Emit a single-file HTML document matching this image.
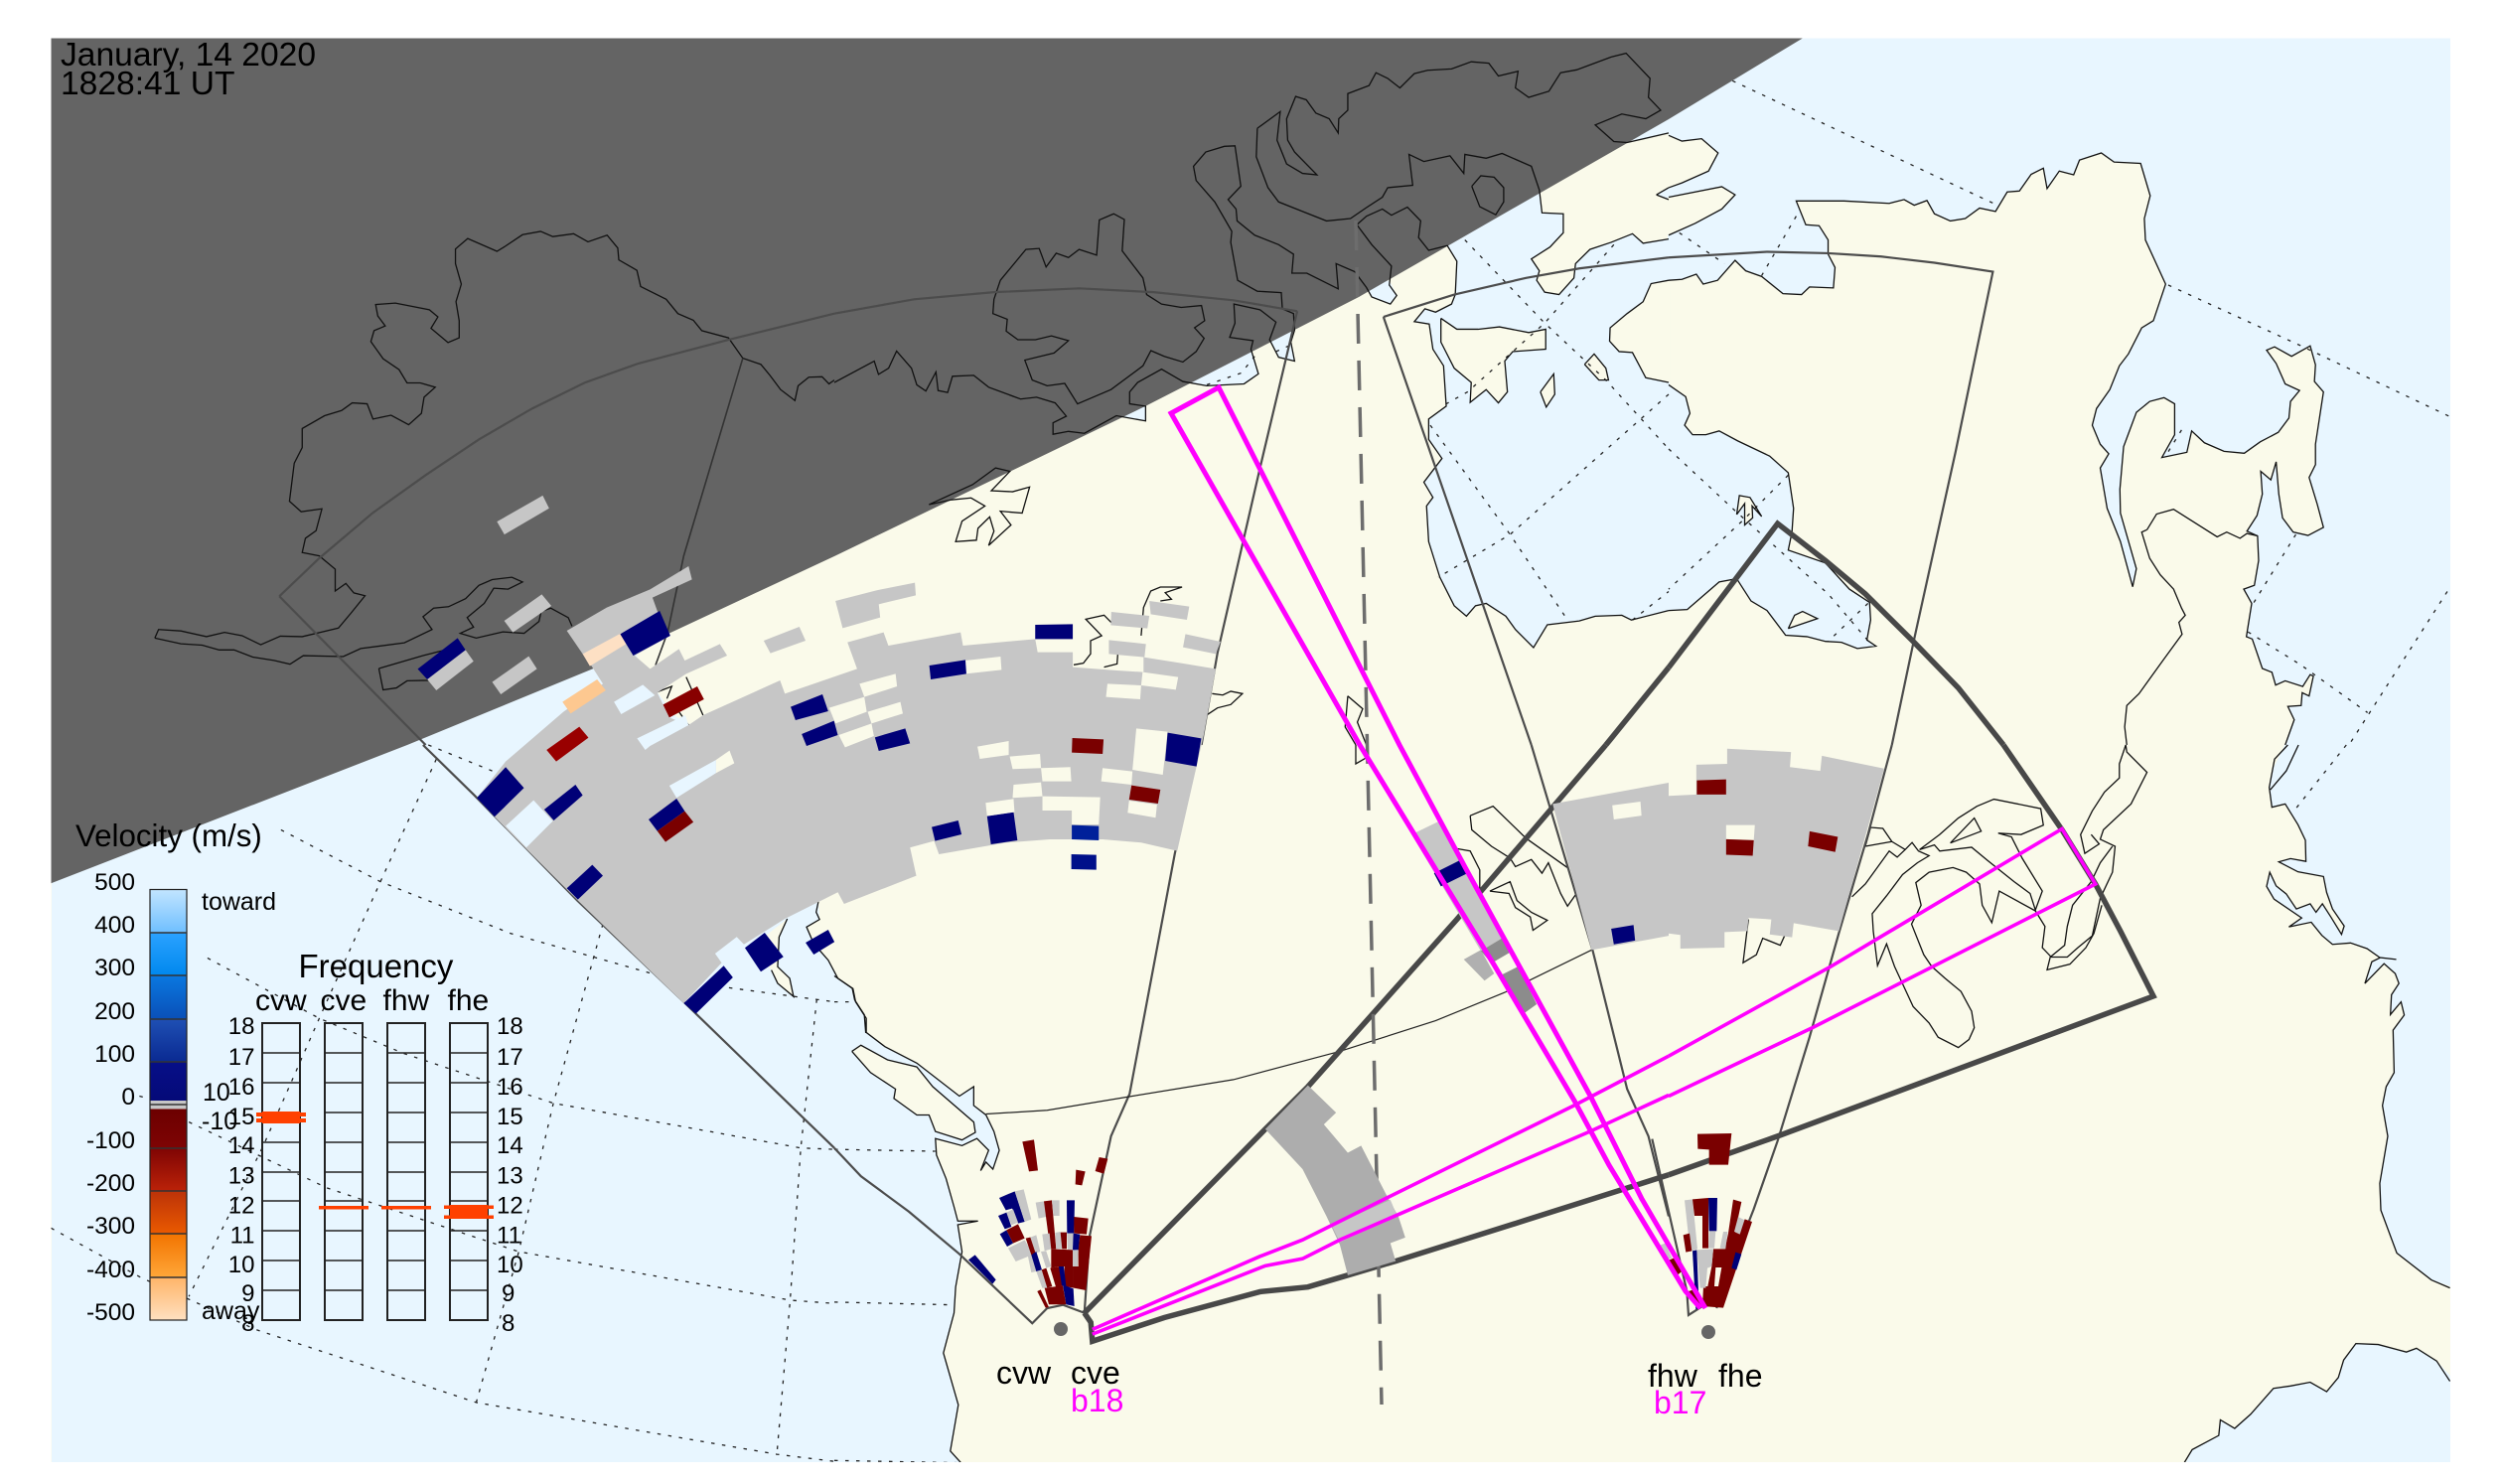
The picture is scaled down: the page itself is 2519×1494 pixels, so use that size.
<!DOCTYPE html>
<html><head><meta charset="utf-8"><title>SuperDARN velocity map</title>
<style>
html,body{margin:0;padding:0;background:#fff}
svg{display:block}
text{font-family:"Liberation Sans",Arial,sans-serif;fill:#000}
polyline,polygon,path,line{vector-effect:non-scaling-stroke}
.o{fill:#e8f6ff;stroke:none}
.l{fill:#fafaea;stroke:none}
.c polyline{fill:none;stroke:#111;stroke-width:1.3}
.g polyline{fill:none;stroke:#222;stroke-width:1.3;stroke-dasharray:3.5 7.5}
.f polyline{fill:none;stroke:#4c4c4c;stroke-width:2.2}
.n{fill:#000077}.r{fill:#7a0000}.y{fill:#c6c6c6}.w{fill:#fafaea}.b{fill:#e8f6ff}
.s{font-size:24.5px;text-anchor:end}
.q{font-size:24px;text-anchor:end}
.p{font-size:24px}
</style></head><body>
<svg xmlns="http://www.w3.org/2000/svg" width="2519" height="1494" viewBox="0 0 2519 1494">
<defs>
<clipPath id="m"><rect x="51.5" y="38.5" width="2415.5" height="1433.5"/></clipPath>
<linearGradient id="cb" x1="0" y1="0" x2="0" y2="1">
<stop offset="0" stop-color="#c2e5ff"/><stop offset=".1" stop-color="#6fbfff"/>
<stop offset=".1" stop-color="#2ba2ff"/><stop offset=".2" stop-color="#0088ee"/>
<stop offset=".2" stop-color="#0a78e0"/><stop offset=".3" stop-color="#0a50b8"/>
<stop offset=".3" stop-color="#1f50b4"/><stop offset=".4" stop-color="#0a2a92"/>
<stop offset=".4" stop-color="#060f88"/><stop offset=".49" stop-color="#050a78"/>
<stop offset=".49" stop-color="#c6c6c6"/><stop offset=".51" stop-color="#c6c6c6"/>
<stop offset=".51" stop-color="#6c0000"/><stop offset=".6" stop-color="#7e0404"/>
<stop offset=".6" stop-color="#7e0404"/><stop offset=".7" stop-color="#bb2208"/>
<stop offset=".7" stop-color="#bc3208"/><stop offset=".8" stop-color="#ea5a00"/>
<stop offset=".8" stop-color="#f27400"/><stop offset=".9" stop-color="#ffa638"/>
<stop offset=".9" stop-color="#ffb468"/><stop offset="1" stop-color="#ffe0c0"/>
</linearGradient>
</defs>
<rect width="2519" height="1494" fill="#fff"/>
<g clip-path="url(#m)">
<rect x="51" y="38" width="2417" height="1435" fill="#fafaea"/>

<!-- oceans -->
<polygon class="o" points="52,300 640,600 640,655 648,689 678,700 721,765 721,778 824,907 825,926 812,933 819,950 834,967 843,985 858,995 860,1007 870,1022 872,1040 891,1054 923,1070 966,1103 980,1094 980,1113 993,1122 1001,1139 1006,1158 1000,1177 993,1170 987,1178 995,1158 984,1146 969,1153 942,1146 943,1163 952,1186 960,1215 964,1229 985,1229 964,1233 969,1260 962,1296 960,1322 950,1362 965,1414 957,1461 968,1473 52,1473"/>
<g transform="translate(840,750) scale(.5357,.4745)">
<polygon class="l" points="33,650 50,637 100,668 155,683 185,725 262,800 265,822 240,838 190,820 178,785 155,785 112,750 115,730 68,695"/>
</g>
<g transform="translate(480,560) scale(.4847,.3333)">
<polygon class="l" points="645,1095 628,1150 625,1240 650,1275 658,1330 625,1290 612,1250 570,1180"/>
<polygon class="l" points="435,365 470,480 440,510 410,480 375,410 400,380"/>
<polygon class="l" points="497,615 530,600 545,640 497,660"/>
</g>
<g transform="translate(840,0) scale(.5357,.4783)">
<polygon class="o" points="1152,517 1170,550 1167,620 1160,640 1130,657 1110,650 1090,677 1118,682 1125,735 1145,770 1150,855 1117,882 1117,925 1142,965 1108,1015 1125,1047 1113,1065 1117,1140 1138,1215 1165,1275 1188,1297 1205,1275 1225,1270 1262,1297 1280,1325 1314,1363 1340,1315 1400,1307 1430,1297 1480,1295 1498,1305 1570,1285 1570,100"/>
<polygon class="l" points="1570,590 1535,597 1520,635 1490,660 1458,690 1457,718 1475,740 1500,742 1525,795 1570,805"/>
<polygon class="l" points="1370,450 1370,490 1345,520 1310,545 1325,570 1320,590 1335,615 1362,620 1390,585 1393,555 1420,525 1460,510 1500,492 1520,512 1570,503 1570,420 1545,410 1570,395 1570,280 1490,300 1465,298 1430,263 1300,340 1325,400 1330,448"/>
<polygon class="l" points="1140,670 1170,693 1210,693 1250,688 1305,700 1337,693 1337,735 1275,740 1260,760 1265,825 1248,848 1225,820 1195,847 1197,805 1165,775 1140,720"/>
<polygon class="l" points="1410,767 1428,745 1450,775 1455,800 1437,800"/>
<polygon class="l" points="1327,825 1352,787 1354,830 1338,857"/>
<polygon class="o" points="783,735 797,787 770,808 700,812 655,803"/>
<polygon class="o" points="818,715 835,752 865,760 858,720 865,680"/>
<polygon class="o" points="530,875 585,886 585,850"/>
<polygon class="o" points="1000,605 1010,625 1045,640 1057,622 1043,590"/>
</g>
<g transform="translate(1680,0) scale(.5351,.4783)">
<polygon class="o" points="0,100 300,60 1480,60 1480,1570 1160,1570 1177,1515 1165,1487 1190,1485 1192,1458 1205,1465 1213,1423 1207,1420 1193,1445 1160,1433 1142,1442 1135,1415 1117,1407 1098,1345 1087,1340 1097,1270 1082,1240 1102,1232 1110,1180 1108,1128 1088,1118 1107,1085 1117,1040 1114,992 1133,1010 1143,972 1148,1040 1155,1090 1175,1120 1203,1127 1232,1110 1220,1060 1205,1005 1217,978 1217,935 1232,825 1215,803 1217,768 1207,728 1172,750 1140,730 1125,737 1143,765 1160,808 1187,822 1170,845 1167,880 1147,910 1113,930 1083,954 1045,950 1008,932 984,907 975,952 928,963 952,915 952,850 932,837 905,845 880,868 856,940 849,1030 850,1080 880,1197 873,1235 850,1140 825,1070 812,985 828,955 812,935 797,895 805,860 830,820 848,770 865,745 890,690 912,675 935,598 897,505 895,460 906,412 888,344 838,341 814,322 773,337 762,368 735,360 712,397 705,354 682,367 660,402 637,404 615,445 585,438 558,460 530,465 500,450 486,422 462,432 443,420 415,428 330,423 240,423 258,473 283,475 300,505 300,535 313,563 310,606 265,604 250,620 215,618 175,582 145,570 125,548 92,590 65,598 52,577 25,588 -2,590"/>
<polygon class="o" points="-2,810 0,810 32,835 40,870 30,895 45,915 70,915 95,907 130,928 190,960 225,995 235,1070 232,1120 225,1158 295,1185 340,1240 378,1268 380,1305 373,1347 390,1360 355,1365 325,1352 295,1350 260,1340 220,1337 185,1285 155,1265 128,1218 95,1225 35,1283 -2,1285"/>
<polygon class="l" points="-2,285 25,297 62,292 93,322 75,360 25,385 -2,395"/>
<polygon class="l" points="-2,415 100,393 125,410 100,440 50,470 -2,495"/>
<polygon class="l" points="225,1323 237,1295 252,1287 280,1302"/>
<polygon class="l" points="128,1083 133,1043 153,1047 175,1087 157,1065 158,1090 143,1105 143,1060"/>
</g>
<g transform="translate(1680,750) scale(.5351,.4745)">
<polygon class="o" points="1480,-2 1160,-2 1135,55 1130,95 1135,132 1160,125 1184,169 1198,202 1199,247 1170,241 1148,248 1184,269 1232,279 1238,313 1249,348 1271,384 1266,402 1246,365 1230,337 1218,355 1207,337 1181,348 1162,316 1143,299 1131,270 1125,300 1139,327 1191,367 1167,386 1209,376 1229,404 1249,423 1283,420 1314,432 1338,451 1369,455 1339,451 1323,460 1310,506 1346,464 1367,485 1374,506 1360,530 1358,572 1378,545 1384,573 1363,605 1365,695 1350,725 1343,765 1353,830 1338,930 1340,987 1370,1078 1435,1135 1480,1152"/>
<polygon class="o" points="970,1530 985,1495 1035,1465 1038,1432 1065,1450 1095,1420 1138,1365 1170,1360 1207,1352 1238,1372 1260,1342 1270,1305 1293,1270 1335,1272 1388,1288 1407,1280 1445,1307 1480,1350 1480,1530"/>
</g>

<!-- graticule -->
<g class="g">
<g transform="translate(1680,0) scale(.5351,.4783)">
<polyline points="120,170 615,430"/><polyline points="940,600 1190,728 1470,877"/><polyline points="1180,1125 1100,1270"/><polyline points="1090,1330 1190,1400 1315,1500"/><polyline points="1465,1245 1280,1568"/><polyline points="240,455 175,580"/><polyline points="20,490 105,555"/><polyline points="0,945 125,1075 155,1105 300,1250 380,1355"/><polyline points="225,1000 140,1095 0,1240"/><polyline points="375,1270 300,1350"/><polyline points="965,905 935,960"/>
</g>
<g transform="translate(1680,750) scale(.5351,.4745)"><polyline points="1275,0 1180,135"/></g>
<g transform="translate(840,0) scale(.5357,.4783)">
<polyline points="1185,505 1335,680 1450,800 1568,945"/><polyline points="1465,515 1335,680 1190,825 1150,850"/><polyline points="1120,895 1270,1125 1375,1300"/><polyline points="1568,830 1270,1125 1135,1215"/><polyline points="1500,1305 1568,1245"/><polyline points="700,810 765,785 790,750"/><polyline points="830,740 860,725"/>
</g>
<g transform="translate(0,750) scale(.5357,.4745)">
<polyline points="805,0 925,55"/>
<polyline points="528,180 715,290 960,400 1225,485"/><polyline points="1370,515 1535,540 1568,545"/>
<polyline points="390,452 600,580 760,655 1040,760 1505,855 1568,858"/>
<polyline points="355,800 615,940 975,1075 1485,1178 1568,1185"/>
<polyline points="96,1025 265,1130 480,1240 895,1395 1460,1505 1568,1520"/>
<polyline points="262,745 280,750"/>
<polyline points="820,30 715,290 600,580 495,850 355,1170"/>
<polyline points="1133,380 1040,760 975,1075 895,1395"/>
<polyline points="1535,540 1505,855 1485,1178 1460,1505"/>
</g>
<g transform="translate(840,750) scale(.5357,.4745)">
<polyline points="0,545 40,545"/><polyline points="0,858 190,862"/><polyline points="0,1182 225,1188"/><polyline points="0,1518 235,1523"/>
</g>
</g>

<!-- terminator -->
<polygon fill="#646464" points="40,30 1827,30 1814,39 1680,120 1368,299 1153,409 840,560 600,672 410,750 52,889 40,894"/>

<!-- coastlines -->
<g class="c">
<g transform="scale(.5357,.4783)">
<polyline points="291,1343 298,1325 340,1328 388,1340 422,1331 455,1338 490,1357 527,1339 568,1340 636,1322 660,1290 686,1254 665,1248 650,1228 630,1244 630,1198 600,1170 568,1163 574,1133 594,1117 605,1071 566,1077 544,1055 553,975 568,942 568,902 610,875 642,864 662,848 690,850 701,882 735,874 768,894 792,870 797,836 818,815 790,806 765,806 750,778 720,755 697,719 703,696 724,686 710,665 706,641 743,638 807,652 823,667 810,691 842,721 863,711 863,675 857,635 867,598 856,555 856,524 879,502 934,529 950,518 982,494 1016,487 1039,498 1078,492 1105,509 1141,495 1161,522 1163,547 1197,569 1204,603 1252,630 1274,660 1303,674 1319,696 1369,711 1396,754 1430,767 1447,790 1467,820 1494,843 1500,812 1520,794 1545,793 1558,808 1568,800"/>
<polyline points="291,1343 340,1355 380,1358 412,1368 440,1368 475,1383 515,1390 545,1398 570,1380 645,1382 678,1365 760,1353 812,1325 795,1298 815,1280 843,1277 875,1260 900,1232 925,1220 962,1215 982,1225 955,1240 928,1238 910,1270 878,1300 890,1320 865,1333 895,1343 945,1330 985,1333 1013,1308 1017,1287 1035,1280 1068,1300 1075,1318"/>
<polyline points="712,1407 795,1380 830,1370 805,1432 765,1433 745,1448 720,1452 712,1407"/>
</g>
<g transform="translate(480,560) scale(.4847,.3333)">
<polyline points="350,380 375,410 405,393 395,430"/><polyline points="435,365 470,480"/><polyline points="420,470 440,510"/><polyline points="497,615 497,655"/><polyline points="530,612 540,625"/>
<polyline points="645,1095 628,1150 625,1240 650,1275 658,1330 625,1290 612,1250"/>
<polyline points="710,1040 705,1075 712,1097 685,1120 700,1170 730,1220 750,1275 780,1305 785,1340 805,1385 808,1440"/>
<polyline points="1240,328 1260,323 1275,295 1275,255 1298,240 1265,190 1303,178 1318,200"/>
<polyline points="1303,335 1330,325 1332,285"/>
<polyline points="1380,240 1385,155 1400,105 1420,93 1465,93 1430,110 1443,130 1420,135"/>
</g>
<g transform="translate(840,0) scale(.5357,.4783)">
<polyline points="0,805 75,760 83,788 102,775 117,739 145,775 155,810 172,823 191,783 195,822 213,826 222,792 262,790 290,815 350,840 380,836 415,848 436,876 411,890 411,914 440,908 470,912 530,875 585,886 585,855 555,850 555,825 570,805 615,777 655,803 700,812 770,808 797,787 783,735 787,717 743,710 753,680 751,640 800,652 830,678 818,715 835,752 865,760 858,720 865,695 863,660 842,650 840,616 795,613 758,590 745,510 747,487 715,425 680,380 675,350 698,320 733,308 753,307 764,392 740,420 755,440 757,465 790,495 835,515 863,535 860,575 888,575 947,608 943,555 978,572 1000,605 1010,625 1045,640 1057,622 1043,600 1047,560 1010,515 982,473 1000,455 1030,440 1047,453 1077,436 1102,465 1098,500 1117,527 1152,517 1170,550 1167,620 1160,640 1130,657 1110,650 1090,677 1118,682 1125,735 1145,770 1150,855 1117,882 1117,925 1142,965 1108,1015 1125,1047 1113,1065 1117,1140 1138,1215 1165,1275 1188,1297 1205,1275 1225,1270 1262,1297 1280,1325 1314,1363 1340,1315 1400,1307 1430,1297 1480,1295 1498,1305 1568,1285"/>
<polyline points="1568,590 1535,597 1520,635 1490,660 1458,690 1457,718 1475,740 1500,742 1525,795 1568,805"/>
<polyline points="795,270 838,235 832,295 850,345 880,365 907,368 865,320 852,295 850,250 867,203 887,210 905,238 930,250 947,280 948,250 965,232 965,197 1005,180 1018,153 1040,165 1063,185 1090,155 1115,148 1160,145 1197,130 1230,133 1248,160 1285,150 1280,185 1305,205 1343,192 1365,153 1395,147 1460,120 1488,112 1533,165 1530,205 1553,232 1525,250 1480,240 1430,263 1465,298 1490,300 1568,280"/>
<polyline points="795,270 793,330 815,395 835,425 880,445 925,465 970,460 1000,437 1030,415 1040,395 1087,390 1080,325 1108,340 1157,328 1183,365 1185,325 1225,333 1255,323 1310,350 1325,400 1330,448 1370,450 1370,490 1345,520 1310,545 1325,570 1320,590 1335,615 1362,620 1390,585 1393,555 1420,525 1460,510 1500,492 1520,512 1568,503"/>
<polyline points="1545,410 1568,395"/><polyline points="1545,410 1568,420"/>
<polyline points="312,590 360,525 385,523 398,562 417,533 440,542 460,525 493,537 498,463 525,450 545,462 541,528 580,585 587,620 615,640 652,647 690,643 696,675 677,690 695,712 680,740 655,762 620,750 595,738 580,770 520,820 457,850 433,807 400,812 372,800 358,758 413,743 440,717 408,707 378,715 345,715 323,697 325,672 298,660 300,630 312,590"/>
<polyline points="1198,392 1215,370 1240,373 1258,395 1258,425 1243,452 1213,435 1198,392"/>
<polyline points="1140,670 1170,693 1210,693 1250,688 1305,700 1337,693 1337,735 1275,740 1260,760 1265,825 1248,848 1225,820 1195,847 1197,805 1165,775 1140,720 1140,670"/>
<polyline points="1410,767 1428,745 1450,775 1455,800 1437,800 1410,767"/>
<polyline points="1327,825 1352,787 1354,830 1338,857 1327,825"/>
<polyline points="178,1062 260,1020 303,985 330,992 295,1033 335,1035 367,1025 353,1080 312,1076 332,1105 290,1148 300,1118 292,1088 270,1112 267,1137 228,1140 240,1097 283,1065 257,1048 220,1052 178,1062"/>
<polyline points="710,1460 730,1463 745,1455 767,1460 745,1483 720,1490 700,1505"/>
<polyline points="965,1465 993,1492 983,1520 1000,1568"/><polyline points="965,1465 960,1530 980,1568"/>
</g>
<g transform="translate(1680,0) scale(.5351,.4783)">
<polyline points="1160,1568 1177,1515 1165,1487 1190,1485 1192,1458 1205,1465 1213,1423 1207,1420 1193,1445 1160,1433 1142,1442 1135,1415 1117,1407 1098,1345 1087,1340 1097,1270 1082,1240 1102,1232 1110,1180 1108,1128 1088,1118 1107,1085 1117,1040 1114,992 1133,1010 1143,972 1148,1040 1155,1090 1175,1120 1203,1127 1232,1110 1220,1060 1205,1005 1217,978 1217,935 1232,825 1215,803 1217,768 1207,728 1172,750 1140,730 1125,737 1143,765 1160,808 1187,822 1170,845 1167,880 1147,910 1113,930 1083,954 1045,950 1008,932 984,907 975,952 928,963 952,915 952,850 932,837 905,845 880,868 856,940 849,1030 850,1080 880,1197 873,1235 850,1140 825,1070 812,985 828,955 812,935 797,895 805,860 830,820 848,770 865,745 890,690 912,675 935,598 897,505 895,460 906,412 888,344 838,341 814,322 773,337 762,368 735,360 712,397 705,354 682,367 660,402 637,404 615,445 585,438 558,460 530,465 500,450 486,422 462,432 443,420 415,428 330,423 240,423 258,473 283,475 300,505 300,535 313,563 310,606 265,604 250,620 215,618 175,582 145,570 125,548 92,590 65,598 52,577 25,588 0,590"/>
<polyline points="0,810 32,835 40,870 30,895 45,915 70,915 95,907 130,928 190,960 225,995 235,1070 232,1120 225,1158 295,1185 340,1240 378,1268 380,1305 373,1347 390,1360 355,1365 325,1352 295,1350 260,1340 220,1337 185,1285 155,1265 128,1218 95,1225 35,1283 0,1285"/>
<polyline points="0,285 25,297 62,292 93,322 75,360 25,385 0,395"/>
<polyline points="0,415 100,393 125,410 100,440 50,470 0,495"/>
<polyline points="225,1323 237,1295 252,1287 280,1302 225,1323"/>
<polyline points="128,1083 133,1043 153,1047 175,1087 157,1065 158,1090 143,1105 143,1060 128,1083"/>
<polyline points="900,1115 890,1120 905,1175 925,1210 950,1240 965,1280 972,1295 960,1310 966,1335 930,1390 885,1460 862,1485 858,1530 862,1568"/>
<polyline points="900,1115 918,1082 950,1072 1032,1130 1050,1120 1075,1133 1088,1123 1108,1128"/>
</g>
<g transform="translate(840,750) scale(.5357,.4745)">
<polyline points="0,490 35,517 40,545 60,580 60,610 95,640 155,675 235,745 262,725 262,765 285,785 300,820 310,860 298,900 285,885 275,903 290,860 268,835 240,850 190,835 192,870 210,920 225,980 232,1010 270,1010 232,1018 240,1075 228,1150 225,1205 205,1290 233,1400 218,1498 238,1523"/>
<polyline points="33,650 50,637 100,668 155,683 185,725 262,800 265,822 240,838 190,820 178,785 155,785 112,750 115,730 68,695 33,650"/>
<polyline points="980,0 980,40 1003,25"/>
<polyline points="1195,150 1238,130 1300,198 1380,262"/>
<polyline points="1195,150 1198,180 1235,215 1270,240 1280,258 1310,243 1330,272 1342,250 1365,315 1378,342 1393,318"/>
<polyline points="1170,220 1195,225 1213,265 1213,305"/>
<polyline points="1232,310 1270,290 1283,330 1310,355 1340,372 1313,393 1308,365 1280,345 1268,315 1232,310"/>
</g>
<g transform="translate(1680,750) scale(.5351,.4745)">
<polyline points="1165,0 1140,30 1130,90 1135,132 1160,125 1184,169 1198,202 1199,247 1170,241 1148,248 1184,269 1232,279 1238,313 1249,348 1271,384 1266,402 1246,365 1230,337 1218,355 1207,337 1181,348 1162,316 1143,299 1131,270 1125,300 1139,327 1191,367 1167,386 1209,376 1229,404 1249,423 1283,420 1314,432 1338,451 1369,455 1339,451 1323,460 1310,506 1346,464 1367,485 1374,506 1360,530 1358,572 1378,545 1384,573 1363,605 1365,695 1350,725 1343,765 1353,830 1338,930 1340,987 1370,1078 1435,1135 1470,1152"/>
<polyline points="1132,95 1162,55 1185,0"/>
<polyline points="970,1523 985,1495 1035,1465 1038,1432 1065,1450 1095,1420 1138,1365 1170,1360 1207,1352 1238,1372 1260,1342 1270,1305 1293,1270 1335,1272 1388,1288 1407,1280 1445,1307 1470,1350"/>
<polyline points="370,215 380,175 403,177 420,205 445,222 458,207 470,225 490,235 468,250 440,275 410,320 383,358 385,395 393,468 410,422 425,470 460,555 490,590 507,620 545,642 565,625 575,600 570,565 550,523 520,495 495,470 480,445 457,380 475,340 465,292 490,270 535,260 560,270 585,295 590,340 608,377 622,310 690,352 708,385 703,430 720,450 750,450 770,430 797,405 812,325 835,270 840,215 812,200 818,180 870,125 900,58 862,15 860,0"/>
<polyline points="345,322 370,295 415,225 430,238 445,222"/><polyline points="370,215 420,205"/>
<polyline points="472,222 500,212 510,225 570,217 600,245 650,290 680,315 690,350 703,310 665,240 645,195 620,187 663,190 705,170 700,135 612,115 580,130 545,155 510,190 472,222"/>
<polyline points="530,208 575,155 588,183 530,208"/>
<polyline points="860,0 848,40 848,70 820,100 797,140 775,190 783,230 810,210 795,190"/>
<polyline points="835,215 812,250 795,290 760,340 750,385 745,425 718,450 712,477 755,465 785,430 800,400 815,340"/>
<polyline points="150,370 140,462 165,445 177,410 210,425 220,400"/>
</g>
</g>

<!-- thin fields of view -->
<g class="f">
<g transform="scale(.5357,.4783)">
<polyline points="525,1255 600,1175 700,1080 800,1000 900,925 1000,860 1100,805 1200,765 1370,715 1568,660"/>
<polyline points="525,1255 800,1568"/>
<polyline points="1396,754 1285,1170 1255,1330 1232,1400" style="stroke:#333;stroke-width:1.6"/>
</g>
<g transform="translate(0,750) scale(.5357,.4745)">
<polyline points="795,0 890,105 1085,330 1285,545 1568,855"/>
</g>
<g transform="translate(840,0) scale(.5357,.4783)">
<polyline points="0,660 150,630 300,615 460,607 600,615 750,632 870,655"/>
<polyline points="870,655 800,985 720,1375 690,1568"/>
<polyline points="1032,667 1165,620 1300,585 1400,565 1568,542"/>
<polyline points="1032,667 1310,1568"/>
</g>
<g transform="translate(840,750) scale(.5357,.4745)">
<polyline points="0,855 50,915 140,990 235,1080 372,1227 400,1195 430,1188 470,1205"/>
<polyline points="680,30 640,230 555,740 520,830 480,1040 470,1205"/>
<polyline points="1310,0 1425,435 1490,730 1530,830 1568,1000"/>
<polyline points="285,783 400,775 560,745 750,710 950,650 1130,585 1260,525 1423,435" style="stroke:#222;stroke-width:1.2"/>
</g>
<g transform="translate(1680,0) scale(.5351,.4783)">
<polyline points="0,542 185,530 300,533 400,540 500,553 610,572 540,950 460,1355 420,1568"/>
</g>
<g transform="translate(1680,750) scale(.5351,.4745)">
<polyline points="420,0 375,190 320,400 265,620 205,840 160,985 120,1100 90,1195"/>
</g>
<g transform="translate(1620,1100) scale(.3333)">
<polyline points="130,140 235,600 240,672 290,640"/>
</g>
</g>

<!-- bold b18 field of view -->
<g>
<g transform="translate(840,750) scale(.5357,.4745)">
<polyline fill="none" stroke="#484848" stroke-width="5.5" points="470,1205 482,1225 485,1265 620,1215 800,1160 890,1150 965,1125 1055,1095 1300,1008 1568,912"/>
<polyline fill="none" stroke="#484848" stroke-width="5.5" points="1450,0 1170,370 890,725 810,815 470,1205"/>
</g>
<g transform="translate(1680,750) scale(.5351,.4745)">
<polyline fill="none" stroke="#484848" stroke-width="5.5" points="0,912 210,828 912,533 850,395 803,295 740,180 630,0"/>
</g>
<g transform="translate(1680,0) scale(.5351,.4783)">
<polyline fill="none" stroke="#484848" stroke-width="5.5" points="630,1568 545,1448 460,1350 370,1250 295,1180 205,1102 0,1405"/>
</g>
<g transform="translate(840,0) scale(.5357,.4783)">
<polyline fill="none" stroke="#484848" stroke-width="5.5" points="1568,1405 1450,1568"/>
</g>
</g>

<!-- dashed meridian -->
<line x1="1365" y1="222" x2="1391" y2="1414" stroke="#6d6d6d" stroke-width="3.5" stroke-dasharray="30 17"/>

<!-- cells over the dark region -->
<g transform="scale(.5357,.4783)">
<polygon class="y" points="1020,1043 1032,1070 948,1125 934,1098"/>
<polygon class="n" points="860,1343 875,1368 803,1430 785,1408"/>
<polygon class="y" points="875,1368 890,1392 820,1453 803,1430"/>
</g>

<!-- cvw/cve scatter -->
<g transform="translate(480,560) scale(.4847,.3333)">
<polygon class="y" points="187,225 270,155 360,100 440,30 447,70 365,125 375,165 402,240 328,300 360,340 420,280 432,315 505,265 520,300 435,355 375,412 387,448 400,487 440,510 470,480 630,375 640,415 790,340 770,260 845,230 855,270 1005,230 1010,270 1160,250 1165,290 1238,290 1238,335 1330,345 1385,350 1385,305 1460,322 1535,340 1510,540 1455,890 1380,865 1300,855 1190,855 1100,865 1040,880 960,900 950,860 900,880 913,965 763,1050 750,1015 640,1095 530,1195 430,1350 210,1040 100,880 37,787 0,730 60,620 180,470 262,385 240,335 220,295"/>
<polygon class="y" points="135,115 155,150 75,230 57,195"/>
<polygon class="y" points="108,302 125,340 50,417 32,380"/>
<polygon class="y" points="670,213 683,255 610,293 596,255"/>
<polygon class="y" points="910,80 912,118 835,145 838,185 760,217 745,135 830,103"/>
<polygon class="y" points="1397,135 1480,152 1475,192 1400,175"/>
<polygon class="y" points="1318,168 1397,180 1393,218 1317,208"/>
<polygon class="y" points="1313,253 1390,265 1387,305 1313,295"/>
<polygon class="y" points="1472,235 1545,258 1535,295 1467,275"/>
<polygon fill="#fde0c4" points="300,232 310,265 235,332 220,295"/>
<polygon fill="#fdc890" points="250,372 268,405 195,475 178,440"/>
<polygon class="n" points="380,165 402,240 325,300 298,235"/>
<polygon class="b" points="345,388 370,420 300,477 285,440"/>
<polygon fill="#990000" points="213,515 232,548 165,620 145,585"/>
<polygon fill="#880000" points="458,393 472,432 400,487 387,448"/>
<polygon class="b" points="433,480 440,510 360,573 350,585 333,550"/>
<polygon class="b" points="497,615 497,655 415,730 400,693"/>
<polygon class="w" points="497,615 525,587 535,625 497,655"/>
<polygon class="n" points="415,732 432,770 375,830 357,795"/>
<polygon class="r" points="432,770 450,803 392,863 375,830"/>
<polygon class="n" points="205,690 220,722 160,798 140,765"/>
<polygon class="n" points="60,637 98,700 37,787 0,730"/>
<polygon class="b" points="118,737 158,800 103,880 60,815"/>
<polygon class="n" points="240,932 262,965 210,1037 187,1003"/>
<polygon class="n" points="513,1237 532,1272 455,1382 430,1350"/>
<polygon class="b" points="540,1150 600,1240 550,1250 513,1237 495,1200"/>
<polygon class="n" points="598,1137 637,1210 590,1255 557,1183"/>
<polygon class="n" points="730,1128 743,1165 700,1203 683,1167"/>
<polygon class="w" points="1015,315 1088,303 1090,343 1015,355"/>
<polygon class="n" points="940,330 1015,313 1017,355 943,372"/>
<polygon class="n" points="1160,207 1238,205 1238,250 1160,250"/>
<polygon class="w" points="870,355 795,385 805,425 873,393"/>
<polygon class="n" points="718,417 730,468 662,495 652,455"/>
<polygon class="w" points="805,425 732,458 745,505 810,470"/>
<polygon class="w" points="880,440 812,470 820,505 885,475"/>
<polygon class="n" points="742,497 750,540 685,573 675,537"/>
<polygon class="w" points="820,505 752,540 765,577 825,543"/>
<polygon class="n" points="890,520 900,565 835,588 827,547"/>
<polygon class="w" points="1105,558 1040,575 1045,612 1105,600"/>
<polygon class="w" points="1170,597 1107,605 1113,643 1172,640"/>
<polygon class="w" points="1233,637 1172,640 1175,680 1235,680"/>
<polygon class="r" points="1237,549 1302,553 1300,597 1236,593"/>
<polygon class="w" points="1370,520 1435,530 1425,660 1362,645"/>
<polygon class="n" points="1435,533 1505,550 1495,635 1430,618"/>
<polygon class="w" points="1300,640 1362,650 1360,690 1297,680"/>
<polygon class="r" points="1360,692 1420,705 1415,747 1355,735"/>
<polygon class="w" points="1355,738 1413,750 1410,790 1352,775"/>
<polygon class="w" points="1115,690 1172,683 1175,725 1113,730"/>
<polygon class="w" points="1175,725 1295,728 1292,810 1236,810 1236,768 1175,768"/>
<polygon fill="#00209a" points="1236,812 1292,815 1292,858 1236,855"/>
<polygon fill="#00108a" points="1235,900 1287,902 1287,947 1235,945"/>
<polygon class="n" points="1060,785 1115,773 1123,858 1068,870"/>
<polygon class="w" points="1057,745 1115,733 1117,773 1060,785"/>
<polygon class="n" points="945,818 1000,798 1007,840 952,860"/>
<polygon class="w" points="1310,385 1380,390 1378,432 1307,425"/>
<polygon class="w" points="1383,350 1457,365 1452,403 1380,390"/>
</g>

<!-- cluster near cv radars -->
<g transform="translate(950,1100) scale(.3333)">
<polygon class="r" points="238,148 273,142 285,235 258,238"/>
<polygon class="r" points="400,233 428,238 418,280 398,277"/>
<polygon class="r" points="470,195 496,200 484,245 458,237"/>
<polygon class="n" points="168,318 215,298 245,390 225,395 207,350 188,355"/>
<polygon class="y" points="215,298 242,292 265,383 245,390"/>
<polygon class="n" points="165,372 190,362 205,405 185,412"/>
<polygon class="y" points="190,362 210,352 225,392 205,400"/>
<polygon class="n" points="170,427 190,415 210,455 192,465"/>
<polygon class="r" points="190,415 225,397 245,440 210,455"/>
<polygon class="y" points="195,470 245,445 265,480 280,540 265,543 255,495 218,510"/>
<polygon class="y" points="262,437 280,430 292,480 278,485"/>
<polygon class="r" points="248,440 262,437 278,485 265,490"/>
<polygon class="n" points="265,490 280,480 297,535 280,540"/>
<polygon class="y" points="278,332 303,328 310,375 287,380"/>
<polygon class="r" points="303,328 327,325 340,472 322,472"/>
<polygon class="y" points="327,325 350,325 350,372 332,372"/>
<polygon class="n" points="372,325 396,325 394,425 373,425"/>
<polygon class="r" points="394,375 437,380 432,428 394,425"/>
<polygon class="y" points="298,428 320,425 325,472 305,478"/>
<polygon class="y" points="337,423 353,420 358,472 340,472"/>
<polygon class="r" points="353,422 372,422 372,472 358,472"/>
<polygon class="y" points="373,425 392,425 390,475 375,475"/>
<polygon class="n" points="392,425 412,428 408,475 390,475"/>
<polygon class="r" points="412,430 447,433 430,597 393,590 393,525 407,525 407,475"/>
<polygon class="y" points="390,475 407,477 405,525 390,525"/>
<polygon class="r" points="325,472 390,475 390,525 365,525 348,525 325,530"/>
<polygon class="y" points="294,480 310,478 325,525 310,530"/>
<polygon class="r" points="365,525 393,525 393,590 365,585"/>
<polygon class="r" points="322,530 350,525 365,580 340,590"/>
<polygon class="n" points="348,525 363,525 370,583 357,583"/>
<polygon class="n" points="360,580 392,592 395,645 370,640"/>
<polygon class="r" points="305,590 360,583 370,640 318,640"/>
<polygon class="r" points="296,535 310,530 328,585 312,590"/>
<polygon class="y" points="280,540 296,535 313,590 298,590"/>
<polygon class="r" points="283,600 293,595 318,648 308,650"/>
<polygon class="n" points="75,505 95,490 158,565 148,578"/>
</g>

<!-- fhw/fhe scatter -->
<g transform="translate(840,750) scale(.5357,.4745)">
<polygon class="y" points="1350,125 1423,435 1568,405 1568,400 1590,403 1590,432 1673,430 1673,397 1716,395 1718,367 1761,370 1758,402 1800,408 1803,378 1888,395 1973,50 1856,23 1853,55 1796,47 1798,15 1678,8 1678,40 1620,42 1620,105 1568,108 1568,80"/>
<polygon class="w" points="1462,128 1515,120 1517,150 1465,158"/>
<polygon class="n" points="1460,390 1502,382 1505,415 1465,423"/>
<polygon class="r" points="1621,75 1676,73 1676,105 1621,105"/>
<polygon class="w" points="1676,170 1730,170 1728,202 1676,200"/>
<polygon class="r" points="1676,200 1728,202 1726,235 1676,233"/>
<polygon class="r" points="1833,183 1886,195 1881,227 1830,215"/>
<!-- beam column -->
<polygon class="y" points="1085,190 1140,160 1255,410 1215,437"/>
<polygon class="n" points="1127,272 1175,245 1190,272 1140,300"/>
<polygon fill="#b0b0b0" points="1183,455 1215,435 1240,485 1222,500"/>
<polygon fill="#8c8c8c" points="1215,437 1255,410 1270,440 1235,463"/>
<polygon fill="#8c8c8c" points="1250,490 1285,470 1320,550 1293,572"/>
<!-- b18 gray arc -->
<polygon fill="#adadad" points="890,722 943,780 920,805 965,865 990,850 1040,960 1060,1000 1073,1045 1045,1057 1055,1095 965,1125 950,1060 925,1000 880,900 810,815"/>
<polygon class="y" points="935,1020 1045,965 1058,1000 950,1055"/>
</g>
<g transform="translate(1620,1100) scale(.3333)">
<polygon class="r" points="267,125 370,123 360,218 302,218 302,172 268,170"/>
<polygon class="y" points="228,325 252,322 267,472 245,480"/>
<polygon class="r" points="252,322 300,318 300,470 282,470 282,372 258,372"/>
<polygon class="n" points="300,318 327,318 325,418 302,418"/>
<polygon class="y" points="302,418 322,418 318,470 300,470"/>
<polygon class="r" points="224,430 243,425 250,478 232,482"/>
<polygon class="r" points="375,323 400,330 380,425 360,425"/>
<polygon class="y" points="390,375 410,385 395,428 378,420"/>
<polygon class="r" points="360,425 378,420 395,428 410,382 432,390 345,650 282,645 285,585 298,585 310,525 315,472 350,472"/>
<polygon class="y" points="335,470 345,420 358,420 352,472"/>
<polygon class="n" points="252,478 265,475 272,650 262,655"/>
<polygon class="y" points="265,475 315,472 310,525 297,530 292,590 275,590"/>
<polygon class="w" points="322,528 340,528 330,585 318,585"/>
<polygon class="n" points="382,482 400,488 385,535 370,530"/>
<polygon class="y" points="150,462 170,455 190,500 172,505"/>
<polygon class="r" points="178,507 195,500 220,540 205,552"/>
<polygon class="r" points="240,600 255,595 285,645 272,652"/>
</g>

<!-- beams -->
<polyline fill="none" stroke="#ff00ff" stroke-width="5" stroke-linejoin="miter" points="1712,1317 1697,1300 1620,1173 1585,1108 1504,971 1369,750 1179,416 1227,390 1409,750 1475,873 1601,1103 1653,1207 1717,1317"/>
<g transform="translate(840,750) scale(.5357,.4745)">
<polyline fill="none" stroke="#ff00ff" stroke-width="3.6" points="485,1240 800,1085 880,1050 1040,960 1390,765 1568,660"/>
<polyline fill="none" stroke="#ff00ff" stroke-width="3.6" points="485,1250 810,1105 880,1090 950,1050 1420,820 1568,743"/>
</g>
<g transform="translate(1680,750) scale(.5351,.4745)">
<polyline fill="none" stroke="#ff00ff" stroke-width="3.6" points="0,660 305,470 740,178 803,295 270,600 0,745"/>
</g>

<circle cx="1068" cy="1338" r="7" fill="#666"/>
<circle cx="1720" cy="1341" r="7" fill="#666"/>
</g>

<!-- title -->
<text x="61" y="66" font-size="33.6">January, 14 2020</text>
<text x="61" y="95" font-size="33.6">1828:41 UT</text>

<!-- velocity scale -->
<text x="76" y="852" font-size="31.3">Velocity (m/s)</text>
<rect x="151" y="895.5" width="37" height="433.5" fill="url(#cb)" stroke="#222" stroke-width="1.2"/>
<g stroke="#333" stroke-width="1.5">
<line x1="151" x2="188" y1="939" y2="939"/><line x1="151" x2="188" y1="982" y2="982"/><line x1="151" x2="188" y1="1026" y2="1026"/><line x1="151" x2="188" y1="1069" y2="1069"/><line x1="151" x2="188" y1="1112" y2="1112"/><line x1="151" x2="188" y1="1156" y2="1156"/><line x1="151" x2="188" y1="1199" y2="1199"/><line x1="151" x2="188" y1="1242" y2="1242"/><line x1="151" x2="188" y1="1286" y2="1286"/>
</g>
<text class="s" x="136" y="896">500</text><text class="s" x="136" y="939">400</text><text class="s" x="136" y="982">300</text><text class="s" x="136" y="1026">200</text><text class="s" x="136" y="1069">100</text><text class="s" x="136" y="1112">0</text><text class="s" x="136" y="1156">-100</text><text class="s" x="136" y="1199">-200</text><text class="s" x="136" y="1242">-300</text><text class="s" x="136" y="1286">-400</text><text class="s" x="136" y="1329">-500</text>
<text x="203" y="916" font-size="25">toward</text>
<text x="203" y="1328" font-size="25">away</text>
<text x="204" y="1108" font-size="25">10</text>
<text x="203" y="1137" font-size="25">-10</text>

<!-- frequency panel -->
<text x="300.5" y="984" font-size="33">Frequency</text>
<text x="257" y="1017" font-size="30">cvw</text><text x="322.5" y="1017" font-size="30">cve</text><text x="385.5" y="1017" font-size="30">fhw</text><text x="450.5" y="1017" font-size="30">fhe</text>
<g fill="none" stroke="#222" stroke-width="2">
<rect x="264" y="1030" width="38" height="299"/><rect x="327" y="1030" width="38" height="299"/><rect x="390" y="1030" width="38" height="299"/><rect x="453" y="1030" width="38" height="299"/>
<path stroke-width="1.6" d="M264 1060H302M264 1090H302M264 1120H302M264 1150H302M264 1180H302M264 1209H302M264 1239H302M264 1269H302M264 1299H302M327 1060H365M327 1090H365M327 1120H365M327 1150H365M327 1180H365M327 1209H365M327 1239H365M327 1269H365M327 1299H365M390 1060H428M390 1090H428M390 1120H428M390 1150H428M390 1180H428M390 1209H428M390 1239H428M390 1269H428M390 1299H428M453 1060H491M453 1090H491M453 1120H491M453 1150H491M453 1180H491M453 1209H491M453 1239H491M453 1269H491M453 1299H491"/>
</g>
<g fill="#ff4000">
<rect x="258" y="1120" width="50" height="4"/><rect x="258" y="1126" width="50" height="4"/><rect x="264" y="1119" width="38" height="12"/>
<rect x="321" y="1214" width="50" height="3.5"/><rect x="384" y="1214" width="50" height="3.5"/>
<rect x="447" y="1213.5" width="50" height="3.5"/><rect x="447" y="1223.5" width="50" height="3.5"/><rect x="453" y="1213" width="38" height="14"/>
</g>
<text class="q" x="256.5" y="1041">18</text><text class="q" x="256.5" y="1072">17</text><text class="q" x="256.5" y="1102">16</text><text class="q" x="256.5" y="1132">15</text><text class="q" x="256.5" y="1161">14</text><text class="q" x="256.5" y="1191.5">13</text><text class="q" x="256.5" y="1221.5">12</text><text class="q" x="256.5" y="1251.5">11</text><text class="q" x="256.5" y="1281">10</text><text class="q" x="256.5" y="1310">9</text><text class="q" x="256.5" y="1340">8</text>
<text class="p" x="500" y="1041">18</text><text class="p" x="500" y="1072">17</text><text class="p" x="500" y="1102">16</text><text class="p" x="500" y="1132">15</text><text class="p" x="500" y="1161">14</text><text class="p" x="500" y="1191.5">13</text><text class="p" x="500" y="1221.5">12</text><text class="p" x="500" y="1251.5">11</text><text class="p" x="500" y="1281">10</text><text class="p" x="505" y="1310">9</text><text class="p" x="505" y="1340">8</text>

<!-- radar labels -->
<text x="1003" y="1393" font-size="32">cvw</text><text x="1078" y="1393" font-size="32">cve</text>
<text x="1078" y="1421" font-size="32" style="fill:#ff00ff">b18</text>
<text x="1659" y="1396" font-size="32">fhw</text><text x="1730" y="1396" font-size="32">fhe</text>
<text x="1665" y="1423" font-size="32" style="fill:#ff00ff">b17</text>
</svg>
</body></html>
